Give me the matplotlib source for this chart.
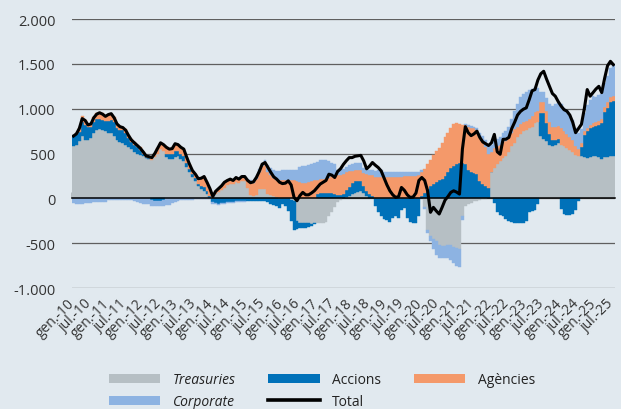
import numpy as np
import matplotlib
matplotlib.use("Agg")
import matplotlib.pyplot as plt
from matplotlib.patches import Patch
from matplotlib.lines import Line2D

plt.rcParams['font.family'] = ['Open Sans', 'DejaVu Sans']

# monthly values, gen-2010 .. jul-2025 (one row per year)
treasuries = [
    585, 600, 640, 700, 650, 650, 670, 730, 760, 770, 760, 750,
    733, 733, 700, 650, 630, 620, 600, 570, 550, 520, 500, 480,
    470, 450, 440, 430, 460, 500, 550, 530, 460, 440, 440, 460,
    470, 440, 415, 350, 290, 240, 196, 140, 104, 85, 48, 10,
    10, 50, 70, 90, 120, 150, 160, 160, 180, 170, 190, 190,
    120, 40, 30, 40, 100, 110, 100, 50, 40, 30, 20, 10,
    0, 0, 0, -20, -30, -250, -270, -280, -280, -280, -290, -280,
    -280, -280, -270, -260, -200, -150, -100, -40, -20, 0, 20, 30,
    50, 60, 70, 80, 60, 30, 10, 0, 0, 0, 0, 0,
    0, 0, 0, 0, 0, 0, 0, 0, 0, 0, 0, 0,
    0, -100, -350, -420, -450, -480, -520, -530, -530, -520, -520, -540,
    -550, -560, -200, -80, -60, -50, -30, -30, -20, -10, -10, 0,
    300, 340, 380, 420, 450, 470, 520, 580, 620, 680, 720, 750,
    760, 780, 800, 840, 850, 700, 660, 640, 600, 590, 600, 620,
    600, 580, 560, 540, 520, 480, 470, 470, 460, 450, 460, 470,
    470, 460, 440, 460, 460, 470, 470,
]

accions = [
    120, 120, 100, 150, 170, 150, 130, 120, 130, 120, 120, 110,
    130, 140, 150, 130, 130, 140, 130, 100, 80, 80, 70, 60,
    30, 15, 10, -20, -30, -30, -30, -20, 40, 50, 50, 70,
    60, 60, 60, 50, 40, 30, 30, 20, 30, 40, 30, 20,
    -40, -50, -60, -50, -50, -40, -40, -40, -30, -30, -30, -30,
    -30, -30, -30, -30, -30, -30, -30, -40, -60, -70, -90, -110,
    -60, -90, -140, -230, -320, -90, -60, -50, -50, -40, -20, -10,
    50, 60, 60, 60, 60, 60, 50, 40, 40, 50, 70, 100,
    120, 130, 120, 110, 80, 50, 40, 30, -80, -150, -200, -230,
    -240, -260, -220, -200, -220, -130, -110, -220, -260, -270, -270, -200,
    30, 60, 100, 140, 160, 180, 200, 220, 250, 300, 340, 360,
    380, 400, 400, 380, 320, 300, 280, 270, 190, 160, 140, 120,
    0, -50, -150, -180, -200, -230, -250, -260, -270, -280, -280, -270,
    -250, -150, -140, -130, -60, 250, 290, 200, 120, 60, 50, 40,
    -120, -170, -180, -180, -170, -130, -30, 100, 250, 300, 320, 330,
    340, 360, 400, 500, 550, 600, 620,
]

agencies = [
    0, 10, 40, 70, 60, 30, 40, 60, 60, 70, 70, 60,
    70, 70, 60, 50, 50, 40, 40, 40, 30, 30, 30, 30,
    20, 15, 15, 25, 40, 60, 70, 70, 70, 60, 70, 80,
    70, 70, 75, 60, 50, 40, 44, 60, 91, 119, 102, 80,
    12, 30, 40, 50, 60, 50, 55, 40, 53, 45, 54, 54,
    90, 150, 140, 180, 200, 250, 290, 250, 220, 200, 190, 190,
    200, 200, 210, 210, 200, 190, 180, 170, 170, 180, 190, 200,
    155, 160, 160, 165, 170, 190, 200, 220, 220, 220, 200, 180,
    140, 130, 130, 130, 140, 190, 210, 230, 240, 240, 240, 220,
    240, 240, 240, 240, 240, 240, 245, 245, 250, 250, 250, 260,
    270, 270, 280, 290, 320, 350, 360, 400, 430, 430, 450, 470,
    460, 430, 420, 440, 480, 490, 500, 490, 500, 480, 430, 380,
    220, 220, 200, 180, 180, 170, 150, 150, 150, 120, 110, 100,
    100, 110, 120, 120, 130, 120, 120, 130, 130, 150, 150, 150,
    180, 170, 160, 150, 130, 110, 80, 50, 40, 40, 40, 40,
    40, 40, 50, 60, 60, 60, 50,
]

corporate = [
    -50, -60, -60, -60, -50, -50, -50, -40, -40, -40, -40, -40,
    -20, -20, -20, -20, -20, -20, -20, -20, -20, -30, -40, -50,
    -60, -60, -60, -60, -60, -60, -60, -60, -70, -70, -50, -40,
    -30, -20, -20, -20, -20, -20, -10, -10, -10, -10, -10, -10,
    -20, -10, -10, -10, -10, -10, -10, -10, -10, -10, -10, -10,
    10, 10, 10, 20, 30, 40, 40, 70, 80, 90, 100, 110,
    120, 120, 110, 110, 120, 130, 170, 190, 190, 190, 190, 190,
    200, 210, 210, 200, 190, 150, 130, 60, 60, 60, 60, 60,
    70, 80, 80, 70, 60, 60, 60, 60, 70, 80, 80, 80,
    60, 60, 60, 55, 55, 55, 50, 50, 50, 50, 50, 40,
    20, -20, -40, -60, -120, -150, -140, -130, -130, -150, -170, -180,
    -200, -210, -40, 10, 20, 20, 20, 30, 40, 60, 80, 100,
    80, 80, 80, 90, 100, 110, 130, 160, 200, 250, 300, 320,
    330, 320, 300, 280, 250, 120, 120, 150, 200, 230, 250, 250,
    270, 260, 250, 240, 230, 200, 180, 150, 200, 250, 280, 300,
    280, 290, 280, 270, 300, 330, 350,
]

total = [
    695, 720, 780, 890, 870, 820, 830, 900, 940, 955, 940, 915,
    935, 945, 900, 830, 800, 790, 760, 700, 650, 620, 590, 560,
    520, 475, 465, 455, 500, 560, 620, 600, 570, 550, 555, 610,
    600, 570, 550, 460, 380, 310, 270, 220, 225, 244, 180, 110,
    22, 80, 110, 140, 180, 200, 215, 200, 233, 215, 244, 244,
    200, 175, 185, 233, 300, 381, 400, 344, 290, 240, 215, 180,
    165, 170, 196, 150, 10, -26, 30, 67, 40, 40, 60, 85,
    122, 160, 180, 200, 270, 260, 233, 300, 330, 380, 420, 455,
    455, 470, 475, 480, 418, 330, 360, 400, 370, 344, 307, 230,
    150, 85, 40, 11, 20, 122, 90, 40, 11, 15, 60, 200,
    233, 200, 85, -155, -100, -140, -174, -100, -20, 20, 67, 85,
    70, 48, 550, 800, 733, 700, 720, 750, 680, 630, 610, 590,
    620, 714, 520, 492, 659, 660, 680, 780, 850, 930, 970, 995,
    1010, 1100, 1200, 1214, 1320, 1390, 1418, 1330, 1250, 1170, 1140, 1080,
    1030, 990, 973, 930, 850, 733, 780, 826, 1000, 1214, 1140, 1180,
    1220, 1250, 1180, 1340, 1480, 1529, 1492,
]

years = list(range(10, 26))
month_names = ['gen.', 'jul.']
tick_labels = [f'{mn}-{yy}' for yy in years for mn in month_names]

series = [
    ('Treasuries', treasuries, '#b6bfc4'),
    ('Accions', accions, '#0071b9'),
    ('Agències', agencies, '#f4996a'),
    ('Corporate', corporate, '#8db3e2'),
]

bg = '#e1e9ef'
fig = plt.figure(figsize=(6.21, 4.10), dpi=100, facecolor=bg)
ax = fig.add_axes([0.116, 0.295, 0.874, 0.656], facecolor=bg)

x = np.arange(len(total))
pos = np.zeros(len(x))
neg = np.zeros(len(x))
for name, vals, col in series:
    v = np.array(vals, dtype=float)
    bottom = np.where(v >= 0, pos, neg)
    ax.bar(x, v, bottom=bottom, width=1.0, align='edge', color=col,
           edgecolor=col, linewidth=0.3, zorder=2)
    pos = pos + np.clip(v, 0, None)
    neg = neg + np.clip(v, None, 0)

ax.plot(x + 0.5, total, color='black', lw=2.2, zorder=4, solid_joinstyle='round')

ax.set_xlim(0, len(x))
ax.set_ylim(-1000, 2000)
ax.set_yticks(np.arange(-1000, 2001, 500))
ax.set_yticklabels([f'{v:,}'.replace(',', '.') for v in range(-1000, 2001, 500)])
ax.grid(axis='y', color='#5f5f5f', lw=0.9, zorder=0)
ax.set_axisbelow(True)
for s in ax.spines.values():
    s.set_visible(False)
ax.tick_params(axis='y', length=0, pad=12, labelsize=10.5, labelcolor='#333333')

ticks = np.arange(0, len(x), 6)
ax.set_xticks(ticks)
ax.set_xticklabels(tick_labels, rotation=45, ha='right', va='center',
                   rotation_mode='anchor')
ax.tick_params(axis='x', length=0, pad=9, labelsize=10, labelcolor='#333333')

# zero axis with small ticks
ax.axhline(0, color='black', lw=1.1, zorder=3)
sec = ax.secondary_xaxis(1 / 3)
sec.set_xticks(ticks)
sec.tick_params(direction='in', length=4, width=1, color='black',
                labelbottom=False, labeltop=False)
for s in sec.spines.values():
    s.set_color('black')
    s.set_linewidth(1.1)

handles = [
    Patch(facecolor='#b6bfc4'), Patch(facecolor='#8db3e2'),
    Patch(facecolor='#0071b9'), Line2D([], [], color='black', lw=2.6),
    Patch(facecolor='#f4996a'),
]
labels = ['Treasuries', 'Corporate', 'Accions', 'Total', 'Agències']
leg = fig.legend(handles, labels, ncol=3, loc='upper left',
                 bbox_to_anchor=(0.164, 0.107), frameon=False, fontsize=10,
                 handlelength=3.7, handleheight=0.6, handletextpad=0.9,
                 columnspacing=2.35, labelspacing=0.5, borderpad=0)
for t in leg.get_texts():
    t.set_color('#222222')
    if t.get_text() in ('Treasuries', 'Corporate'):
        t.set_style('italic')

fig.savefig('out.png', dpi=100, facecolor=bg)
